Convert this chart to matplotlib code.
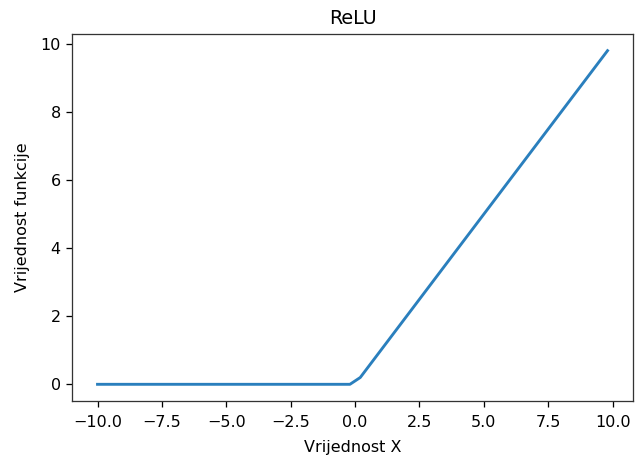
import matplotlib
matplotlib.use('Agg')
import matplotlib.pyplot as plt

# ReLU: tocke loma krivulje
x_vals = [-10.0, -0.2, 0.2, 9.8]
y_vals = [0.0, 0.0, 0.2, 9.8]

dpi = 115
fig = plt.figure(figsize=(635 / dpi, 455 / dpi), dpi=dpi)
ax = fig.add_axes([0.1134, 0.1187, 0.8835, 0.8066])
ax.plot(x_vals, y_vals, color='#2a7fbd', linewidth=1.8)
ax.set_title('ReLU')
ax.set_xlabel('Vrijednost X', labelpad=6)
ax.set_ylabel('Vrijednost funkcije', labelpad=6.5)
ax.set_xticks([-10, -7.5, -5, -2.5, 0, 2.5, 5, 7.5, 10])
ax.tick_params(axis='x', pad=5.5)
for s in ax.spines.values():
    s.set_color('#333333')

fig.savefig('out.png', dpi=dpi)
